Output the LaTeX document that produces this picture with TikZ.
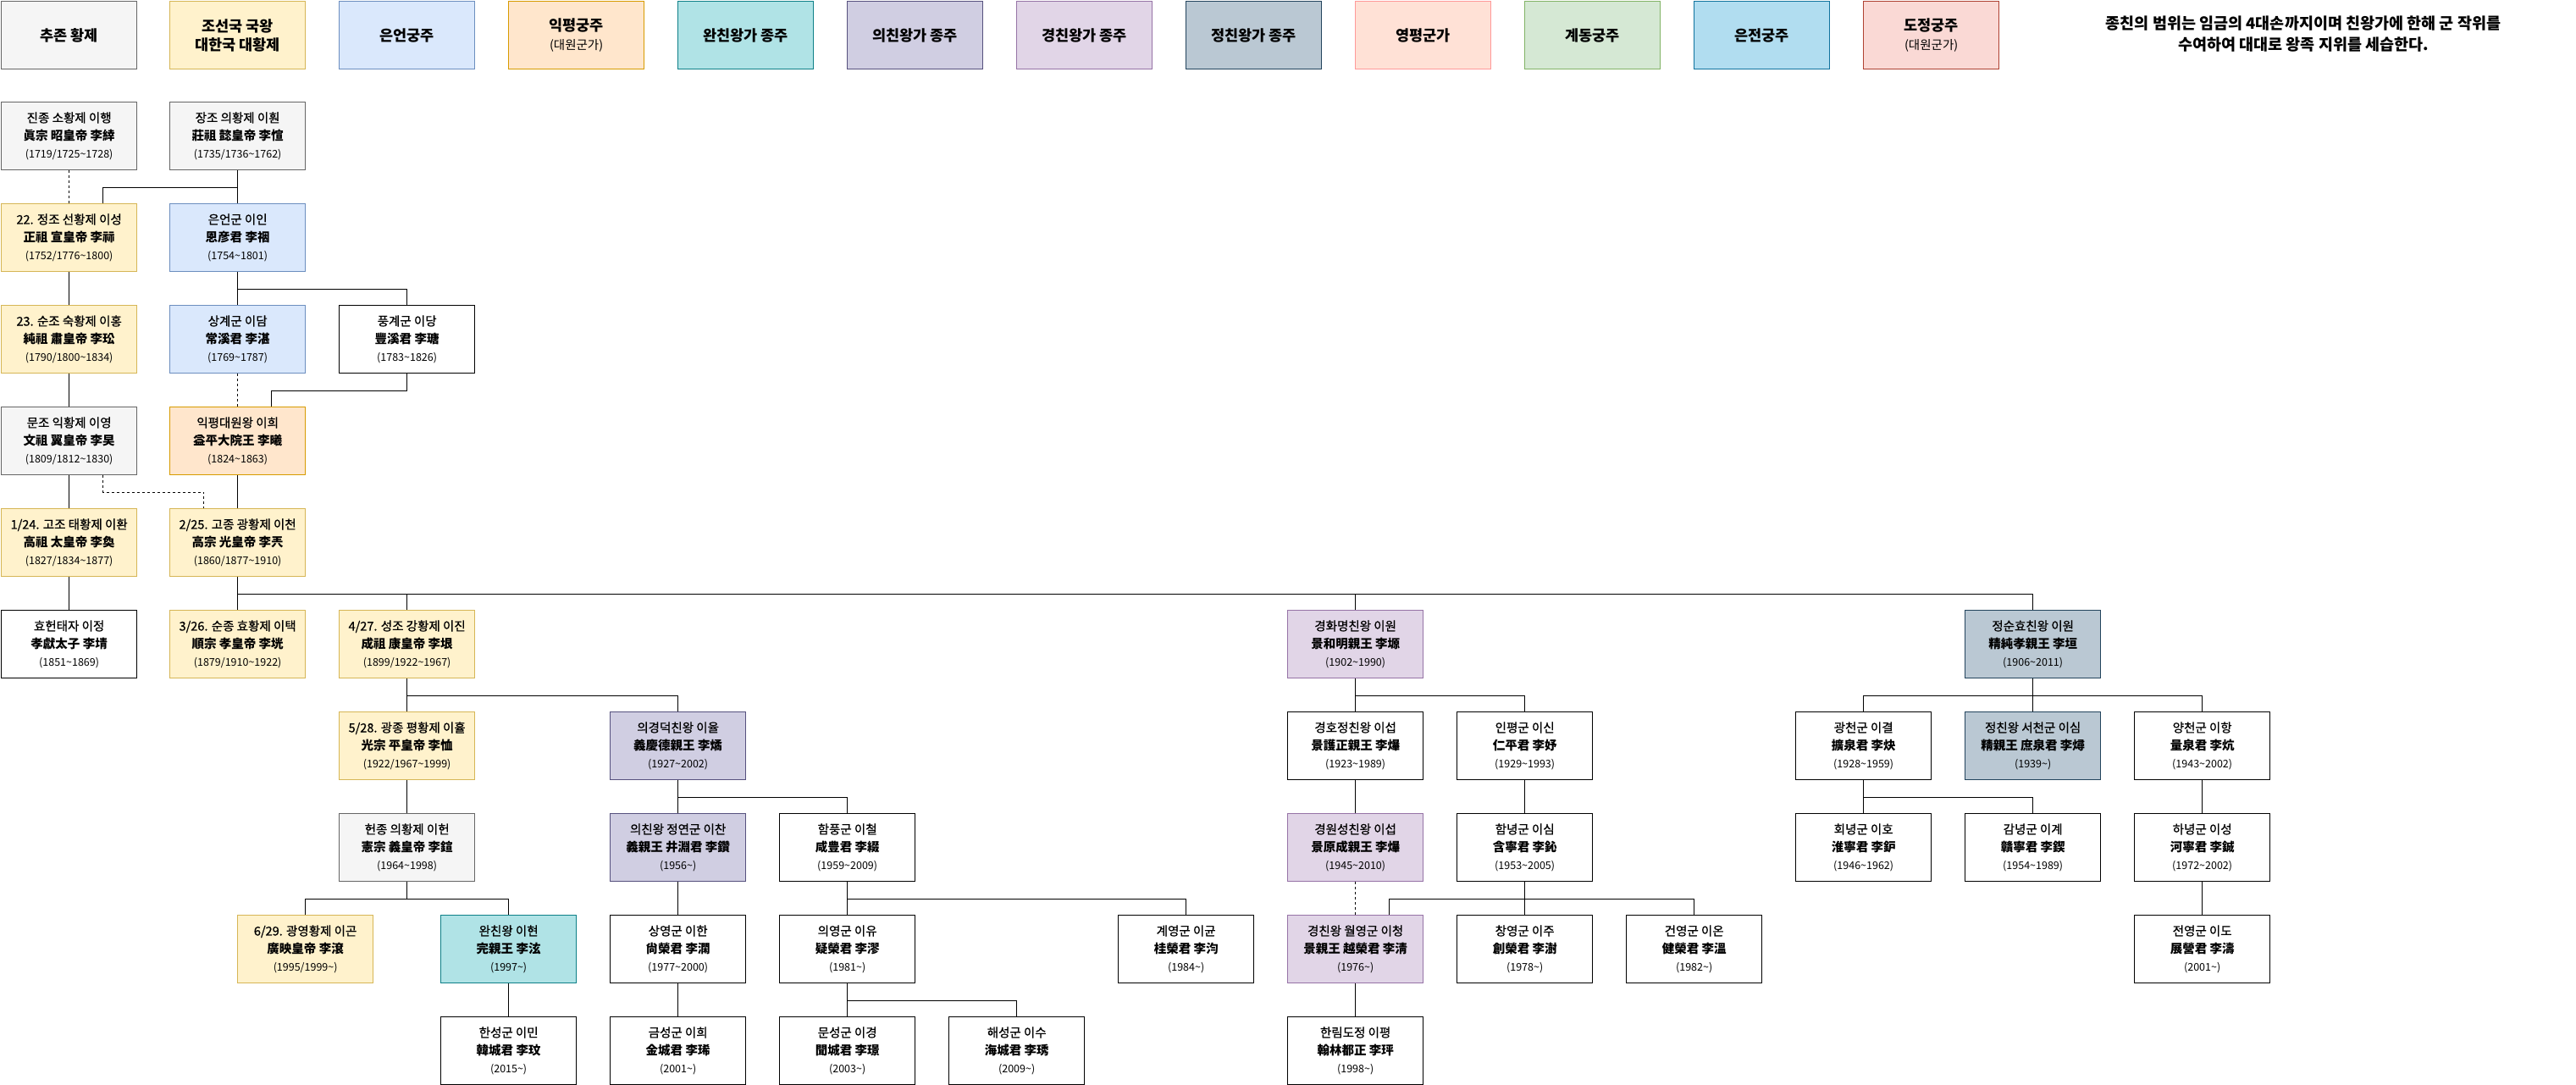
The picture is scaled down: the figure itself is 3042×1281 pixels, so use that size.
\documentclass[tikz,border=0pt]{standalone}
\usepackage{fontspec}
\setmainfont{Noto Sans CJK KR}
\newfontface\namefont{Noto Sans CJK KR}[RawFeature={embolden=0.8}]
\usepackage{xcolor}

\definecolor{chujonfill}{HTML}{F5F5F5}
\definecolor{chujonline}{HTML}{666666}
\definecolor{wangfill}{HTML}{FFF2CC}
\definecolor{wangline}{HTML}{D6B656}
\definecolor{euneonfill}{HTML}{DAE8FC}
\definecolor{euneonline}{HTML}{6C8EBF}
\definecolor{ikpyeongfill}{HTML}{FFE6CC}
\definecolor{ikpyeongline}{HTML}{D79B00}
\definecolor{wanfill}{HTML}{B0E3E6}
\definecolor{wanline}{HTML}{0E8088}
\definecolor{uifill}{HTML}{D0CEE2}
\definecolor{uiline}{HTML}{56517E}
\definecolor{gyeongfill}{HTML}{E1D5E7}
\definecolor{gyeongline}{HTML}{9673A6}
\definecolor{jeongfill}{HTML}{BAC8D3}
\definecolor{jeongline}{HTML}{23445D}
\definecolor{yeongpyeongfill}{HTML}{FFE1D6}
\definecolor{yeongpyeongline}{HTML}{FF9999}
\definecolor{gyedongfill}{HTML}{D5E8D4}
\definecolor{gyedongline}{HTML}{82B366}
\definecolor{eunjeonfill}{HTML}{B1DDF0}
\definecolor{eunjeonline}{HTML}{10739E}
\definecolor{dojeongfill}{HTML}{FAD9D5}
\definecolor{dojeongline}{HTML}{AE4132}

\tikzset{
  person/.style={draw=black, fill=white, line width=1.3pt, minimum width=160pt, minimum height=80pt,
    inner sep=0pt, anchor=north west, align=center, font=\fontsize{14.5}{21}\selectfont},
  legbox/.style={person, font=\bfseries\fontsize{17.5}{22}\selectfont},
  chujon/.style={fill=chujonfill, draw=chujonline},
  wang/.style={fill=wangfill, draw=wangline},
  euneongung/.style={fill=euneonfill, draw=euneonline},
  ikpyeonggung/.style={fill=ikpyeongfill, draw=ikpyeongline},
  wanchinga/.style={fill=wanfill, draw=wanline},
  uichinga/.style={fill=uifill, draw=uiline},
  gyeongchinga/.style={fill=gyeongfill, draw=gyeongline},
  jeongchinga/.style={fill=jeongfill, draw=jeongline},
  yeongpyeong/.style={fill=yeongpyeongfill, draw=yeongpyeongline},
  gyedong/.style={fill=gyedongfill, draw=gyedongline},
  eunjeon/.style={fill=eunjeonfill, draw=eunjeonline},
  dojeong/.style={fill=dojeongfill, draw=dojeongline},
  link/.style={line width=1.2pt},
  adopt/.style={line width=1.2pt, dash pattern=on 3pt off 3pt}
}

\newcommand{\tld}{\textasciitilde}
\newcommand{\royal}[3]{{\namefont #1}\\{\bfseries #2}\\{\fontsize{12.5}{21}\selectfont (#3)}}
\newcommand{\subline}[1]{{\mdseries\fontsize{14.5}{22}\selectfont #1}}

\begin{document}
\begin{tikzpicture}[x=1pt, y=-1pt]

\useasboundingbox (0,0) rectangle (3042,1281);

\node[legbox, chujon] (leg1) at (1,1) {추존 황제};
\node[legbox, wang] (leg2) at (200,1) {조선국 국왕\\대한국 대황제};
\node[legbox, euneongung] (leg3) at (400,1) {은언궁주};
\node[legbox, ikpyeonggung] (leg4) at (600,1) {익평궁주\\\subline{(대원군가)}};
\node[legbox, wanchinga] (leg5) at (800,1) {완친왕가 종주};
\node[legbox, uichinga] (leg6) at (1000,1) {의친왕가 종주};
\node[legbox, gyeongchinga] (leg7) at (1200,1) {경친왕가 종주};
\node[legbox, jeongchinga] (leg8) at (1400,1) {정친왕가 종주};
\node[legbox, yeongpyeong] (leg9) at (1600,1) {영평군가};
\node[legbox, gyedong] (leg10) at (1800,1) {계동궁주};
\node[legbox, eunjeon] (leg11) at (2000,1) {은전궁주};
\node[legbox, dojeong] (leg12) at (2200,1) {도정궁주\\\subline{(대원군가)}};

\node[align=center, font=\bfseries\fontsize{18.5}{25}\selectfont] (note) at (2720,40)
  {종친의 범위는 임금의 4대손까지이며 친왕가에 한해 군 작위를\\수여하여 대대로 왕족 지위를 세습한다.};

\node[person, chujon] (jinjong) at (1,120) {\royal{진종 소황제 이행}{眞宗 昭皇帝 李緈}{1719/1725\tld1728}};
\node[person, chujon] (jangjo) at (200,120) {\royal{장조 의황제 이훤}{莊祖 懿皇帝 李愃}{1735/1736\tld1762}};

\node[person, wang] (jeongjo) at (1,240) {\royal{22. 정조 선황제 이성}{正祖 宣皇帝 李祘}{1752/1776\tld1800}};
\node[person, euneongung] (euneon) at (200,240) {\royal{은언군 이인}{恩彦君 李䄄}{1754\tld1801}};

\node[person, wang] (sunjo) at (1,360) {\royal{23. 순조 숙황제 이홍}{純祖 肅皇帝 李玜}{1790/1800\tld1834}};
\node[person, euneongung] (sanggye) at (200,360) {\royal{상계군 이담}{常溪君 李湛}{1769\tld1787}};
\node[person] (punggye) at (400,360) {\royal{풍계군 이당}{豐溪君 李瑭}{1783\tld1826}};

\node[person, chujon] (munjo) at (1,480) {\royal{문조 익황제 이영}{文祖 翼皇帝 李旲}{1809/1812\tld1830}};
\node[person, ikpyeonggung] (ikpyeong) at (200,480) {\royal{익평대원왕 이희}{益平大院王 李曦}{1824\tld1863}};

\node[person, wang] (gojo) at (1,600) {\royal{1/24. 고조 태황제 이환}{高祖 太皇帝 李奐}{1827/1834\tld1877}};
\node[person, wang] (gojong) at (200,600) {\royal{2/25. 고종 광황제 이천}{高宗 光皇帝 李兲}{1860/1877\tld1910}};

\node[person] (hyoheon) at (1,720) {\royal{효헌태자 이정}{孝獻太子 李埥}{1851\tld1869}};
\node[person, wang] (sunjong) at (200,720) {\royal{3/26. 순종 효황제 이택}{順宗 孝皇帝 李垙}{1879/1910\tld1922}};
\node[person, wang] (seongjo) at (400,720) {\royal{4/27. 성조 강황제 이진}{成祖 康皇帝 李垠}{1899/1922\tld1967}};
\node[person, gyeongchinga] (gyeonghwa) at (1520,720) {\royal{경화명친왕 이원}{景和明親王 李塬}{1902\tld1990}};
\node[person, jeongchinga] (jeongsun) at (2320,720) {\royal{정순효친왕 이원}{精純孝親王 李垣}{1906\tld2011}};

\node[person, wang] (gwangjong) at (400,840) {\royal{5/28. 광종 평황제 이휼}{光宗 平皇帝 李恤}{1922/1967\tld1999}};
\node[person, uichinga] (uigyeong) at (720,840) {\royal{의경덕친왕 이율}{義慶德親王 李燏}{1927\tld2002}};
\node[person] (gyeongho) at (1520,840) {\royal{경호정친왕 이섭}{景護正親王 李爗}{1923\tld1989}};
\node[person] (inpyeong) at (1720,840) {\royal{인평군 이신}{仁平君 李妤}{1929\tld1993}};
\node[person] (gwangcheon) at (2120,840) {\royal{광천군 이결}{擴泉君 李炔}{1928\tld1959}};
\node[person, jeongchinga] (seocheon) at (2320,840) {\royal{정친왕 서천군 이심}{精親王 庶泉君 李燖}{1939\tld}};
\node[person] (yangcheon) at (2520,840) {\royal{양천군 이항}{量泉君 李炕}{1943\tld2002}};

\node[person, chujon] (heonjong) at (400,960) {\royal{헌종 의황제 이헌}{憲宗 義皇帝 李鍹}{1964\tld1998}};
\node[person, uichinga] (jeongyeon) at (720,960) {\royal{의친왕 정연군 이찬}{義親王 井淵君 李鑽}{1956\tld}};
\node[person] (hampung) at (920,960) {\royal{함풍군 이철}{咸豊君 李綴}{1959\tld2009}};
\node[person, gyeongchinga] (gyeongwon) at (1520,960) {\royal{경원성친왕 이섭}{景原成親王 李爗}{1945\tld2010}};
\node[person] (hamnyeong) at (1720,960) {\royal{함녕군 이심}{含寧君 李鈊}{1953\tld2005}};
\node[person] (hoenyeong) at (2120,960) {\royal{회녕군 이호}{淮寧君 李鈩}{1946\tld1962}};
\node[person] (gamnyeong) at (2320,960) {\royal{감녕군 이계}{贛寧君 李鍥}{1954\tld1989}};
\node[person] (hanyeong) at (2520,960) {\royal{하녕군 이성}{河寧君 李鋮}{1972\tld2002}};

\node[person, wang] (gwangyeong) at (280,1080) {\royal{6/29. 광영황제 이곤}{廣映皇帝 李滾}{1995/1999\tld}};
\node[person, wanchinga] (wanchin) at (520,1080) {\royal{완친왕 이현}{完親王 李泫}{1997\tld}};
\node[person] (sangyeong) at (720,1080) {\royal{상영군 이한}{尙榮君 李澖}{1977\tld2000}};
\node[person] (uiyeong) at (920,1080) {\royal{의영군 이유}{疑榮君 李漻}{1981\tld}};
\node[person] (gyeyeong) at (1320,1080) {\royal{계영군 이균}{桂榮君 李汮}{1984\tld}};
\node[person, gyeongchinga] (wolyeong) at (1520,1080) {\royal{경친왕 월영군 이청}{景親王 越榮君 李淸}{1976\tld}};
\node[person] (changyeong) at (1720,1080) {\royal{창영군 이주}{創榮君 李澍}{1978\tld}};
\node[person] (geonyeong) at (1920,1080) {\royal{건영군 이온}{健榮君 李溫}{1982\tld}};
\node[person] (jeonyeong) at (2520,1080) {\royal{전영군 이도}{展營君 李濤}{2001\tld}};

\node[person] (hanseong) at (520,1200) {\royal{한성군 이민}{韓城君 李玟}{2015\tld}};
\node[person] (geumseong) at (720,1200) {\royal{금성군 이희}{金城君 李琋}{2001\tld}};
\node[person] (munseong) at (920,1200) {\royal{문성군 이경}{聞城君 李璟}{2003\tld}};
\node[person] (haeseong) at (1120,1200) {\royal{해성군 이수}{海城君 李琇}{2009\tld}};
\node[person] (hallim) at (1520,1200) {\royal{한림도정 이평}{翰林都正 李玶}{1998\tld}};

\draw[adopt] (jinjong) -- (jeongjo);
\draw[link] (jangjo.south) -- ++(0,20) -| ([xshift=40pt]jeongjo.north);
\draw[link] (jangjo) -- (euneon);
\draw[link] (jeongjo) -- (sunjo);
\draw[link] (euneon) -- (sanggye);
\draw[link] (euneon.south) -- ++(0,20) -| (punggye.north);
\draw[link] (sunjo) -- (munjo);
\draw[adopt] (sanggye) -- (ikpyeong);
\draw[link] (punggye.south) -- ++(0,20) -| ([xshift=40pt]ikpyeong.north);
\draw[link] (munjo) -- (gojo);
\draw[adopt] ([xshift=40pt]munjo.south) -- ++(0,20) -| ([xshift=-40pt]gojong.north);
\draw[link] (ikpyeong) -- (gojong);
\draw[link] (gojo) -- (hyoheon);

\draw[link] (gojong) -- (sunjong);
\draw[link] (gojong.south) -- ++(0,20) -| (seongjo.north);
\draw[link] (gojong.south) -- ++(0,20) -| (gyeonghwa.north);
\draw[link] (gojong.south) -- ++(0,20) -| (jeongsun.north);

\draw[link] (seongjo) -- (gwangjong);
\draw[link] (seongjo.south) -- ++(0,20) -| (uigyeong.north);
\draw[link] (gwangjong) -- (heonjong);
\draw[link] (heonjong.south) -- ++(0,20) -| (gwangyeong.north);
\draw[link] (heonjong.south) -- ++(0,20) -| (wanchin.north);
\draw[link] (wanchin) -- (hanseong);

\draw[link] (uigyeong) -- (jeongyeon);
\draw[link] (uigyeong.south) -- ++(0,20) -| (hampung.north);
\draw[link] (jeongyeon) -- (sangyeong);
\draw[link] (sangyeong) -- (geumseong);
\draw[link] (hampung) -- (uiyeong);
\draw[link] (hampung.south) -- ++(0,20) -| (gyeyeong.north);
\draw[link] (uiyeong) -- (munseong);
\draw[link] (uiyeong.south) -- ++(0,20) -| (haeseong.north);

\draw[link] (gyeonghwa) -- (gyeongho);
\draw[link] (gyeonghwa.south) -- ++(0,20) -| (inpyeong.north);
\draw[link] (gyeongho) -- (gyeongwon);
\draw[adopt] (gyeongwon) -- (wolyeong);
\draw[link] (inpyeong) -- (hamnyeong);
\draw[link] (hamnyeong.south) -- ++(0,20) -| ([xshift=40pt]wolyeong.north);
\draw[link] (hamnyeong) -- (changyeong);
\draw[link] (hamnyeong.south) -- ++(0,20) -| (geonyeong.north);
\draw[link] (wolyeong) -- (hallim);

\draw[link] (jeongsun) -- (seocheon);
\draw[link] (jeongsun.south) -- ++(0,20) -| (gwangcheon.north);
\draw[link] (jeongsun.south) -- ++(0,20) -| (yangcheon.north);
\draw[link] (gwangcheon) -- (hoenyeong);
\draw[link] (gwangcheon.south) -- ++(0,20) -| (gamnyeong.north);
\draw[link] (yangcheon) -- (hanyeong);
\draw[link] (hanyeong) -- (jeonyeong);

\end{tikzpicture}
\end{document}
